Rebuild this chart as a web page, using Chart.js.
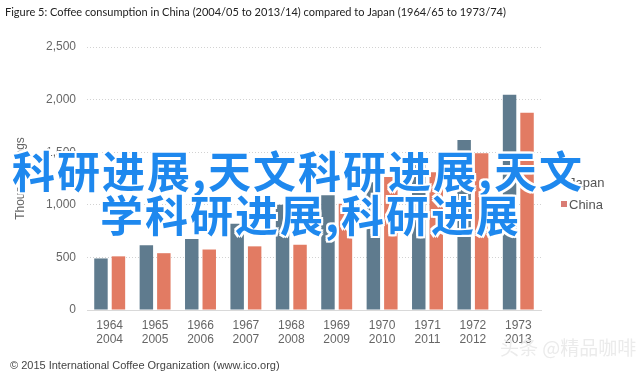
<!DOCTYPE html>
<html>
<head>
<meta charset="utf-8">
<script src="https://cdn.jsdelivr.net/npm/chart.js@4.4.1/dist/chart.umd.min.js"></script>
<style>
    html, body { margin: 0; padding: 0; background: #fff; }
    #wrap { position: relative; width: 640px; height: 377px; overflow: hidden; }
    #chart { position: absolute; left: 0; top: 0; }
    .legend { position: absolute; left: 561px; font: 13px "Liberation Sans", Arial, sans-serif; color: #555; }
    .legend i { display: inline-block; width: 6px; height: 6px; margin-right: 2px; vertical-align: 2px; }
    .overlay {
        position: absolute; white-space: nowrap;
        font: bold 43px "Noto Sans CJK SC", sans-serif; letter-spacing: 2px;
        color: #1e88ee;
        text-shadow: -2px 0 #fff, 2px 0 #fff, 0 -2px #fff, 0 2px #fff,
                     -2px -2px #fff, 2px 2px #fff, -2px 2px #fff, 2px -2px #fff;
    }
    #footer { position: absolute; left: 10px; top: 359px; font: 11px "Liberation Sans", Arial, sans-serif; color: #444; }
    #mark { position: absolute; left: 500px; top: 333px; font: 19px "Noto Sans CJK SC", sans-serif; color: #ebebeb; }
</style>
</head>
<body>
<div id="wrap">
    <canvas id="chart" width="640" height="377"></canvas>
    <div class="legend" style="top:175px"><i style="background:#5f7b8e"></i>Japan</div>
    <div class="legend" style="top:197px"><i style="background:#d97c74"></i>China</div>
    <div class="overlay" style="left:12px; top:138px">科研进展,天文科研进展,天文</div>
    <div class="overlay" style="left:100px; top:182px">学科研进展,科研进展</div>
    <div id="footer">© 2015 International Coffee Organization (www.ico.org)</div>
    <div id="mark">头条 @精品咖啡</div>
</div>
<script>
// Coffee consumption, thousand bags
const japanYears = ['1964', '1965', '1966', '1967', '1968', '1969', '1970', '1971', '1972', '1973'];
const chinaYears = ['2004', '2005', '2006', '2007', '2008', '2009', '2010', '2011', '2012', '2013'];
const japan = [490, 615, 675, 820, 1000, 1090, 1215, 1450, 1615, 2045];
const china = [510, 540, 575, 605, 620, 1010, 1265, 1310, 1490, 1875];
const yTicks = [0, 500, 1000, 1500, 2000, 2500];

const labels = japanYears.map((y, i) => [y, chinaYears[i]]);
const tickFont = { family: '"Liberation Sans", Arial, sans-serif', size: 12, lineHeight: 1.2 };

new Chart(document.getElementById('chart'), {
    type: 'bar',
    data: {
        labels: labels,
        datasets: [
            { label: 'Japan', data: japan, backgroundColor: '#5f7b8e' },
            { label: 'China', data: china, backgroundColor: '#e27b63' }
        ]
    },
    options: {
        responsive: false,
        animation: false,
        devicePixelRatio: 1,
        layout: { padding: { left: 5, right: 99, top: 0, bottom: 0 } },
        datasets: { bar: { categoryPercentage: 0.77, barPercentage: 0.77 } },
        plugins: {
            legend: { display: false },
            tooltip: { enabled: false },
            title: {
                display: true,
                align: 'start',
                text: 'Figure 5: Coffee consumption in China (2004/05 to 2013/14) compared to Japan (1964/65 to 1973/74)',
                color: '#222',
                font: { family: 'Lato, "Open Sans", sans-serif', size: 11, weight: 'normal', lineHeight: 1.2 },
                padding: { top: 6, bottom: 27.8 }
            }
        },
        scales: {
            x: {
                grid: { display: false, drawTicks: false },
                border: { display: true, color: '#d9d9d9', width: 1 },
                ticks: { color: '#666', font: tickFont, padding: 8, maxRotation: 0 },
                afterFit: scale => { scale.height = 67; }
            },
            y: {
                min: 0,
                max: 2500,
                afterBuildTicks: scale => { scale.ticks = yTicks.map(v => ({ value: v })); },
                grid: { color: '#d2d2d2', drawTicks: false },
                border: { display: false, dash: [1, 2] },
                ticks: { color: '#666', font: tickFont, padding: 11 },
                title: {
                    display: true,
                    text: 'Thousand bags',
                    color: '#666',
                    font: tickFont,
                    padding: { top: 8, bottom: 0 }
                },
                afterFit: scale => { scale.width = 82; }
            }
        }
    }
});
</script>
</body>
</html>
